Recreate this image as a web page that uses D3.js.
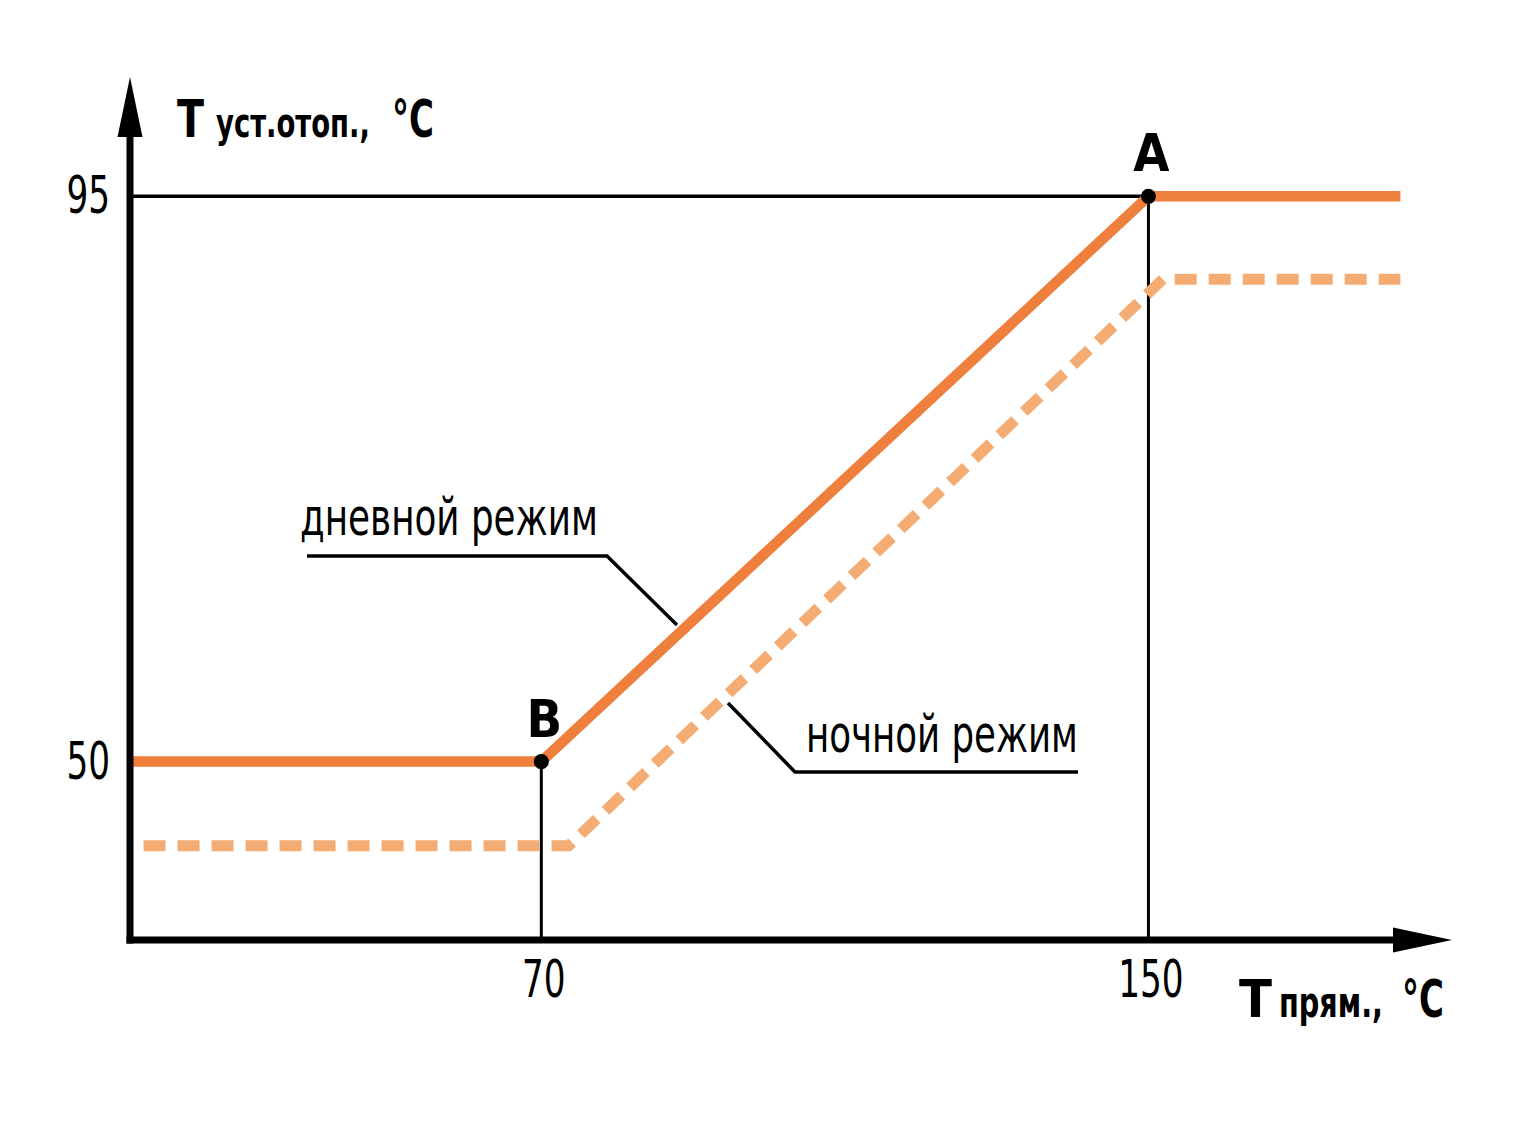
<!DOCTYPE html>
<html>
<head>
<meta charset="utf-8">
<script src="https://cdn.jsdelivr.net/npm/d3@7"></script>
<style>
  body { margin: 0; background: #fff; }
</style>
</head>
<body>
<svg id="chart" width="1536" height="1142"></svg>
<script>
// Chart values
const xTicks = [70, 150];
const yTicks = [50, 95];
const dayMode = [
  { t: 15.8, v: 50 },
  { t: 70, v: 50 },
  { t: 150, v: 95 },
  { t: 183.2, v: 95 }
];
const nightMode = [
  { t: 16, v: 43.3 },
  { t: 73.6, v: 43.3 },
  { t: 151.9, v: 88.4 },
  { t: 183.2, v: 88.4 }
];
const keyPoints = [
  { name: "A", t: 150, v: 95 },
  { name: "B", t: 70, v: 50 }
];

const fontFamily = "'Liberation Sans Narrow', 'Arial Narrow', 'DejaVu Sans Condensed', sans-serif";
const dayColor = "#ee7f3d";
const nightColor = "#f5ac72";

const svg = d3.select("#chart");

const x = d3.scaleLinear().domain([15.8, 190]).range([130, 1452]);
const y = d3.scaleLinear().domain([35.8, 104.5]).range([940, 77]);

// Squeeze a text horizontally to a given width (keeps its bbox honest)
function fitWidth(sel, width) {
  sel.each(function () {
    const self = d3.select(this);
    const w = typeof width === "function" ? width(self.datum()) : width;
    const natural = this.getComputedTextLength();
    if (!natural) return;
    const tx = +self.attr("x") || 0;
    self.attr("transform", `translate(${tx},0) scale(${w / natural},1) translate(${-tx},0)`);
  });
}

// Guide lines to A and B
svg.append("line")
  .attr("x1", x.range()[0]).attr("x2", x(150))
  .attr("y1", y(95)).attr("y2", y(95))
  .attr("stroke", "black").attr("stroke-width", 3.5);

keyPoints.forEach((p) => {
  svg.append("line")
    .attr("x1", x(p.t)).attr("x2", x(p.t))
    .attr("y1", y(p.v)).attr("y2", y.range()[0])
    .attr("stroke", "black").attr("stroke-width", 3);
});

const line = d3.line().x((d) => x(d.t)).y((d) => y(d.v));

// Night mode (dashed)
svg.append("path")
  .datum(nightMode)
  .attr("d", line)
  .attr("fill", "none")
  .attr("stroke", nightColor)
  .attr("stroke-width", 11)
  .attr("stroke-dasharray", "22,12")
  .attr("stroke-dashoffset", 22);

// Day mode
svg.append("path")
  .datum(dayMode)
  .attr("d", line)
  .attr("fill", "none")
  .attr("stroke", dayColor)
  .attr("stroke-width", 10.5)
  .attr("stroke-linejoin", "round");

// Points A and B
svg.selectAll("circle.key")
  .data(keyPoints)
  .join("circle")
  .attr("class", "key")
  .attr("cx", (d) => x(d.t))
  .attr("cy", (d) => y(d.v))
  .attr("r", 7.5)
  .attr("fill", "black");

svg.selectAll("text.key")
  .data(keyPoints)
  .join("text")
  .attr("class", "key")
  .text((d) => d.name)
  .attr("x", (d) => x(d.t) + 3)
  .attr("y", (d) => y(d.v) - 25)
  .attr("font-family", fontFamily)
  .attr("font-weight", "bold")
  .attr("font-size", 52)
  .attr("text-anchor", "middle");

// Axes with ticks as labels only
const digitWidth = 21.8;

const yAxis = svg.append("g")
  .attr("transform", `translate(${x.range()[0]},0)`)
  .call(d3.axisLeft(y).tickValues(yTicks).tickSize(0).tickPadding(20));

const xAxis = svg.append("g")
  .attr("transform", `translate(0,${y.range()[0]})`)
  .call(d3.axisBottom(x).tickValues(xTicks).tickSize(0).tickPadding(20));

[xAxis, yAxis].forEach((g) => {
  g.select(".domain").remove();
  g.selectAll("text")
    .attr("font-family", fontFamily)
    .attr("font-size", 52)
    .attr("fill", "black")
    .attr("textLength", (d) => String(d).length * digitWidth)
    .attr("lengthAdjust", "spacingAndGlyphs");
});

xAxis.selectAll("text").attr("dx", 2);

// Axis lines with arrows
const x0 = x.range()[0], y0 = y.range()[0];
const xEnd = x.range()[1], yEnd = y.range()[1];

svg.append("path")
  .attr("d", `M${x0},${y0 + 3.5} V${yEnd + 58}`)
  .attr("stroke", "black").attr("stroke-width", 7).attr("fill", "none");
svg.append("path")
  .attr("d", `M${x0 - 3.5},${y0} H${xEnd - 58}`)
  .attr("stroke", "black").attr("stroke-width", 7).attr("fill", "none");

svg.append("path")
  .attr("d", `M${x0},${yEnd} L${x0 + 12.5},${yEnd + 60} L${x0 - 12.5},${yEnd + 60} Z`)
  .attr("fill", "black");
svg.append("path")
  .attr("d", `M${xEnd},${y0} L${xEnd - 59},${y0 - 12.5} L${xEnd - 59},${y0 + 12.5} Z`)
  .attr("fill", "black");

// Axis titles, piece by piece
function addPiece(str, px, py, size, width) {
  svg.append("text")
    .text(str)
    .attr("x", px)
    .attr("y", py)
    .attr("font-family", fontFamily)
    .attr("font-weight", "bold")
    .attr("font-size", size)
    .attr("fill", "black")
    .call(fitWidth, width);
}

addPiece("T", 177, 137, 52, 27);
addPiece("уст.отоп.,", 216, 137, 41, 154);
addPiece("°C", 392, 137, 52, 42);

addPiece("T", 1239, 1017, 52, 33);
addPiece("прям.,", 1279, 1017, 42, 104);
addPiece("°C", 1402, 1017, 52, 42);

// Mode labels with leader lines
const labels = [
  { text: "дневной режим", tx: 300, ty: 535, w: 298, path: [[307, 556], [607, 556], [677, 625]] },
  { text: "ночной режим", tx: 806, ty: 752, w: 272, path: [[1078, 772], [795, 772], [728, 703]] }
];

labels.forEach((l) => {
  svg.append("text")
    .text(l.text)
    .attr("x", l.tx)
    .attr("y", l.ty)
    .attr("font-family", fontFamily)
    .attr("font-size", 52)
    .attr("fill", "black")
    .call(fitWidth, l.w);

  svg.append("path")
    .attr("d", d3.line()(l.path))
    .attr("fill", "none")
    .attr("stroke", "black")
    .attr("stroke-width", 3.5);
});
</script>
</body>
</html>
